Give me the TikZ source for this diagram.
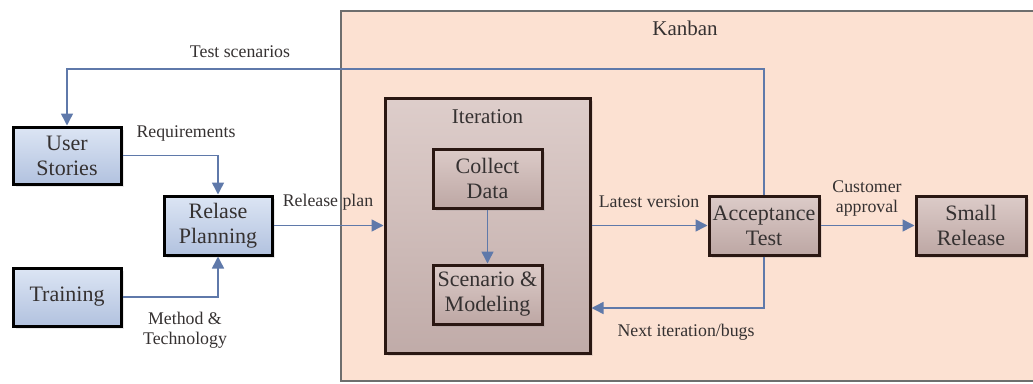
\documentclass[tikz,border=0pt]{standalone}
\usepackage{fontspec}
\setmainfont{Liberation Serif}
\usetikzlibrary{arrows.meta,shadows}
\definecolor{txt}{HTML}{353131}
\definecolor{kanbanfill}{HTML}{FCE1D2}
\definecolor{kanbanline}{HTML}{6E6E6E}
\definecolor{flow}{HTML}{5F79AA}
\definecolor{bluetop}{HTML}{DCE5F4}
\definecolor{bluebot}{HTML}{B2C2DF}
\definecolor{mauvetop}{HTML}{DCCBC8}
\definecolor{mauvebot}{HTML}{BDA7A4}
\definecolor{mauveedge}{HTML}{2A1712}
\tikzset{
  box/.style={rectangle, line width=3pt, align=center, text=txt,
    font=\fontsize{22}{25}\selectfont, inner sep=0pt,
    drop shadow={opacity=0.18, shadow xshift=3pt, shadow yshift=-3pt}},
  bluebox/.style={box, draw=black, top color=bluetop, bottom color=bluebot},
  mauvebox/.style={box, draw=mauveedge, top color=mauvetop, bottom color=mauvebot},
  lbl/.style={text=txt, align=center, font=\fontsize{17.8}{20}\selectfont, inner sep=0pt},
  title/.style={lbl, font=\fontsize{21}{24}\selectfont},
  arr/.style={draw=flow, line width=1.5pt, -{Triangle[length=12pt,width=12pt]}},
}
\begin{document}
\begin{tikzpicture}[x=1pt,y=-1pt]
\useasboundingbox (0,0) rectangle (1033,383);
% Kanban area
\draw[kanbanline, line width=1.5pt, fill=kanbanfill] (341,11) rectangle (1036,381);
\node[title] (kanban) at (685,28) {Kanban};
% Iteration container
\node[mauvebox, minimum width=205pt, minimum height=255pt,
      top color=mauvetop!95!white, bottom color=mauvebot!95!white] (it) at (487.5,225.5) {};
\node[title] (itlbl) at (487.5,117) {Iteration};
% Boxes
\node[bluebox, minimum width=108pt, minimum height=57pt] (us) at (67,155.5) {User\\Stories};
\node[bluebox, minimum width=108pt, minimum height=59pt] (rp) at (218,225.5) {Relase\\Planning};
\node[bluebox, minimum width=108pt, minimum height=58pt] (tr) at (67,297) {Training};
\node[mauvebox, minimum width=109pt, minimum height=59pt] (cd) at (487.5,178.5) {Collect\\Data};
\node[mauvebox, minimum width=109pt, minimum height=59pt] (sm) at (487.5,294.5) {Scenario \&\\Modeling};
\node[mauvebox, minimum width=110pt, minimum height=59pt] (acc) at (764,225.5) {Acceptance\\Test};
\node[mauvebox, minimum width=110pt, minimum height=59pt] (sr) at (971,225.5) {Small\\Release};
% Routing levels
\coordinate (toprow) at (0,69);
\coordinate (botrow) at (0,308);
% Connectors
\draw[arr] (acc.north) -- (acc.north |- toprow) -| (us.north);
\draw[arr] (us.east) -| (rp.north);
\draw[arr] (tr.east) -| (rp.south);
\draw[arr] (rp.east) -- (it.west);
\draw[arr] (cd.south) -- (sm.north);
\draw[arr] (it.east) -- (acc.west);
\draw[arr] (acc.east) -- (sr.west);
\draw[arr] (acc.south) |- (it.east |- botrow);
% Connector labels
\node[lbl] (l1) at (240,52) {Test scenarios};
\node[lbl] (l2) at (186,133) {Requirements};
\node[lbl] (l3) at (185,330) {Method \&\\Technology};
\node[lbl] (l4) at (328,202) {Release plan};
\node[lbl] (l5) at (649,202) {Latest version};
\node[lbl] (l6) at (867,198) {Customer\\approval};
\node[lbl] (l7) at (686,332) {Next iteration/bugs};
\end{tikzpicture}
\end{document}
